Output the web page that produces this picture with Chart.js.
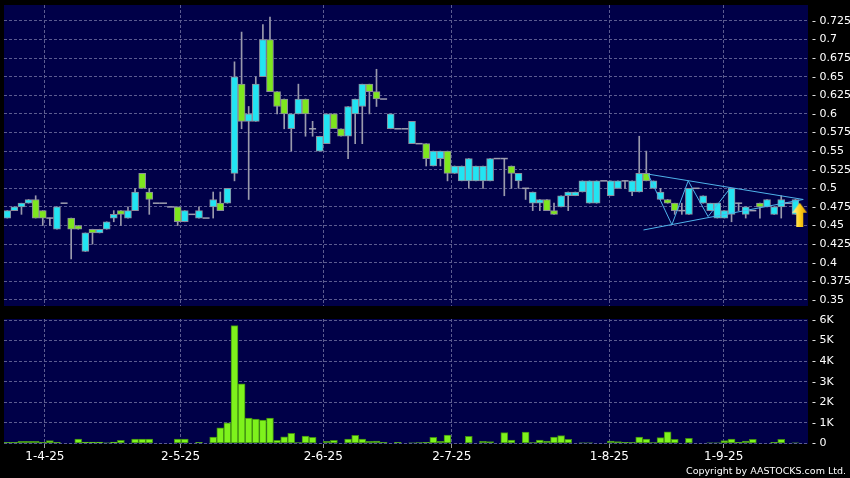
<!DOCTYPE html>
<html>
<head>
<meta charset="utf-8">
<script src="https://cdn.jsdelivr.net/npm/chart.js@4.4.0/dist/chart.umd.min.js"></script>
<style>
body{margin:0;background:#000;width:850px;height:478px;overflow:hidden;position:relative;font-family:"DejaVu Sans",sans-serif}
#priceChart{position:absolute;left:0;top:0}
#volChart{position:absolute;left:0;top:312px}
#copy{position:absolute;right:4px;top:465px;color:#fff;font-size:9.5px;line-height:12px}
</style>
</head>
<body>
<canvas id="priceChart" width="850" height="312"></canvas>
<canvas id="volChart" width="850" height="166"></canvas>
<div id="copy">Copyright by AASTOCKS.com Ltd.</div>
<script>
// daily candles, oldest first
var open = [0.46,0.47,0.475,0.48,0.485,0.47,0.46,0.445,0.48,0.46,
  0.45,0.415,0.445,0.44,0.445,0.46,0.47,0.46,0.47,0.52,
  0.495,0.48,0.48,0.475,0.475,0.455,0.465,0.46,0.46,0.475,
  0.48,0.48,0.52,0.64,0.59,0.59,0.65,0.70,0.63,0.62,
  0.58,0.60,0.62,0.58,0.55,0.56,0.60,0.58,0.57,0.60,
  0.61,0.64,0.63,0.62,0.58,0.58,0.58,0.56,0.56,0.56,
  0.53,0.54,0.55,0.52,0.51,0.51,0.51,0.51,0.51,0.54,
  0.54,0.53,0.51,0.50,0.48,0.48,0.485,0.47,0.475,0.49,
  0.49,0.495,0.48,0.48,0.51,0.49,0.50,0.51,0.495,0.495,
  0.52,0.50,0.485,0.485,0.48,0.47,0.465,0.50,0.48,0.47,
  0.46,0.46,0.465,0.48,0.465,0.47,0.48,0.475,0.465,0.475,
  0.48,0.465];
var high = [0.47,0.475,0.48,0.485,0.49,0.47,0.46,0.475,0.48,0.46,
  0.45,0.44,0.445,0.445,0.455,0.47,0.47,0.475,0.50,0.52,
  0.50,0.48,0.48,0.475,0.475,0.47,0.465,0.475,0.46,0.495,
  0.495,0.50,0.67,0.71,0.61,0.65,0.72,0.73,0.63,0.62,
  0.60,0.64,0.62,0.59,0.57,0.60,0.60,0.58,0.61,0.62,
  0.64,0.64,0.66,0.62,0.60,0.58,0.58,0.59,0.56,0.56,
  0.55,0.55,0.55,0.53,0.53,0.54,0.53,0.53,0.54,0.54,
  0.54,0.53,0.52,0.50,0.495,0.485,0.485,0.48,0.49,0.495,
  0.495,0.51,0.51,0.51,0.51,0.51,0.51,0.51,0.51,0.57,
  0.55,0.51,0.50,0.485,0.48,0.48,0.50,0.50,0.49,0.48,
  0.48,0.47,0.50,0.48,0.475,0.47,0.48,0.485,0.475,0.49,
  0.48,0.485];
var low = [0.46,0.47,0.465,0.48,0.46,0.45,0.45,0.445,0.48,0.405,
  0.445,0.415,0.425,0.44,0.445,0.455,0.45,0.46,0.47,0.50,
  0.465,0.48,0.48,0.475,0.45,0.455,0.465,0.46,0.46,0.46,
  0.47,0.48,0.51,0.58,0.485,0.59,0.65,0.63,0.60,0.58,
  0.55,0.60,0.57,0.57,0.55,0.56,0.58,0.57,0.54,0.56,
  0.56,0.60,0.61,0.62,0.58,0.58,0.58,0.56,0.56,0.53,
  0.53,0.53,0.51,0.52,0.51,0.50,0.51,0.50,0.51,0.54,
  0.49,0.50,0.50,0.485,0.47,0.47,0.47,0.465,0.475,0.47,
  0.49,0.495,0.48,0.48,0.51,0.49,0.50,0.50,0.49,0.495,
  0.51,0.50,0.485,0.48,0.465,0.465,0.465,0.50,0.48,0.47,
  0.46,0.46,0.455,0.47,0.46,0.47,0.46,0.475,0.465,0.46,
  0.48,0.465];
var close = [0.47,0.475,0.48,0.485,0.46,0.46,0.46,0.475,0.48,0.445,
  0.445,0.44,0.44,0.445,0.455,0.465,0.465,0.47,0.495,0.50,
  0.485,0.48,0.48,0.475,0.455,0.47,0.465,0.47,0.46,0.485,
  0.47,0.50,0.65,0.59,0.60,0.64,0.70,0.63,0.61,0.60,
  0.60,0.62,0.60,0.58,0.57,0.60,0.58,0.57,0.61,0.62,
  0.64,0.63,0.62,0.62,0.60,0.58,0.58,0.59,0.56,0.54,
  0.55,0.55,0.52,0.53,0.53,0.54,0.53,0.53,0.54,0.54,
  0.54,0.52,0.52,0.50,0.495,0.485,0.47,0.465,0.49,0.495,
  0.495,0.51,0.51,0.51,0.51,0.51,0.51,0.51,0.51,0.52,
  0.51,0.51,0.495,0.48,0.47,0.47,0.50,0.50,0.49,0.48,
  0.48,0.47,0.50,0.48,0.475,0.47,0.475,0.485,0.475,0.485,
  0.48,0.485];
var volume = [50,50,100,100,100,50,130,50,0,0,
  200,60,60,60,20,60,150,0,200,200,
  200,0,0,0,200,200,0,50,0,300,
  750,1000,5730,2900,1230,1180,1130,1230,150,320,
  480,30,350,290,0,100,150,0,200,390,
  210,100,110,50,0,50,0,20,30,50,
  290,100,400,0,0,340,0,100,80,0,
  520,160,0,550,30,160,110,300,370,190,
  0,20,20,0,0,110,80,50,40,300,
  200,30,280,560,190,0,240,0,0,20,
  20,130,210,50,110,190,0,0,50,190,
  0,20];

// x ticks (candle index) and their date labels
var tickPos = [5.3, 24.4, 44.5, 62.6, 84.8, 100.9];
var tickLabels = ['1-4-25', '2-5-25', '2-6-25', '2-7-25', '1-8-25', '1-9-25'];
var priceTicks = [0.35,0.375,0.4,0.425,0.45,0.475,0.5,0.525,0.55,0.575,0.6,0.625,0.65,0.675,0.7,0.725];
var volTicks = [0,1000,2000,3000,4000,5000,6000];

// triangle pattern drawn on the chart
var upperX = [90.3, 112.1], upperY = [0.519, 0.485];
var lowerX = [89.6, 112.1], lowerY = [0.444, 0.485];
var zigX = [90.3, 93.6, 95.9, 98.7, 101.8], zigY = [0.518, 0.451, 0.510, 0.462, 0.500];
var arrowX = [111.6], arrowY = [0.4645];

var CYAN = '#22e4f2', GREEN = '#7ee61e', EDGE = '#8c8c9c', GRID = '#5c5c90';
var FONT = {family: 'DejaVu Sans', size: 11};

var idx = open.map(function(v, i) { return i; });
function pts(xs, ys) { return xs.map(function(x, i) { return {x: x, y: ys[i]}; }); }

var panelBg = {
  id: 'panelBg',
  beforeDraw: function(chart) {
    var a = chart.chartArea, c = chart.ctx;
    c.save();
    c.fillStyle = '#000048';
    c.fillRect(a.left, a.top, a.right - a.left, a.bottom - a.top);
    c.restore();
  }
};

// yellow arrow marker
var arrowImg = document.createElement('canvas');
arrowImg.width = 15; arrowImg.height = 24;
var ac = arrowImg.getContext('2d');
var grad = ac.createLinearGradient(0, 0, 15, 0);
grad.addColorStop(0, '#fff3a8'); grad.addColorStop(0.5, '#ffd21a'); grad.addColorStop(1, '#d99400');
ac.fillStyle = grad;
ac.beginPath();
ac.moveTo(7.5, 0); ac.lineTo(15, 10); ac.lineTo(11, 10); ac.lineTo(11, 24);
ac.lineTo(4, 24); ac.lineTo(4, 10); ac.lineTo(0, 10); ac.closePath();
ac.fill();

function noPad(s) { s.paddingTop = 0; s.paddingBottom = 0; s.paddingLeft = 0; s.paddingRight = 0; }

function xAxis(showLabels, h) {
  return {
    type: 'linear', min: -0.46, max: 112.77, offset: false,
    afterBuildTicks: function(s) { s.ticks = tickPos.map(function(v) { return {value: v}; }); },
    afterFit: function(s) { s.height = h; noPad(s); },
    grid: {color: GRID, offset: false, drawTicks: showLabels, tickLength: 4, tickColor: '#9a9a9a', tickBorderDash: []},
    border: {display: false, dash: [3, 2]},
    ticks: {display: showLabels, autoSkip: false, maxRotation: 0, padding: 2, color: '#fff',
      font: {family: 'DejaVu Sans', size: 12},
      callback: function(v, i) { return tickLabels[i]; }}
  };
}

function yAxis(min, max, list, fmt) {
  return {
    position: 'right', min: min, max: max,
    afterBuildTicks: function(s) { s.ticks = list.map(function(v) { return {value: v}; }); },
    afterFit: function(s) { s.width = 42; noPad(s); },
    grid: {color: GRID, drawTicks: false},
    border: {display: false, dash: [3, 2]},
    ticks: {color: '#fff', font: FONT, padding: 4, crossAlign: 'near', callback: fmt}
  };
}

new Chart(document.getElementById('priceChart'), {
  type: 'bar',
  data: {
    datasets: [
      {type: 'line', data: pts(arrowX, arrowY), showLine: false, pointStyle: arrowImg, pointRadius: 8},
      {type: 'line', data: pts(upperX, upperY), borderColor: '#4fb3ea', borderWidth: 1, pointRadius: 0},
      {type: 'line', data: pts(lowerX, lowerY), borderColor: '#4fb3ea', borderWidth: 1, pointRadius: 0},
      {type: 'line', data: pts(zigX, zigY), borderColor: '#4fb3ea', borderWidth: 1, pointRadius: 0},
      {type: 'line', showLine: false, pointStyle: 'line', pointRadius: 3.5, borderWidth: 1.5, borderColor: '#a0a0b0',
        data: idx.filter(function(i) { return open[i] === close[i]; }).map(function(i) { return {x: i, y: close[i]}; })},
      {data: idx.map(function(i) { return {x: i, y: open[i] === close[i] ? null : [open[i], close[i]]}; }),
        grouped: false, barThickness: 7, borderWidth: 1, borderSkipped: false, borderColor: EDGE,
        backgroundColor: idx.map(function(i) { return close[i] > open[i] ? CYAN : GREEN; })},
      {data: idx.map(function(i) { return {x: i, y: low[i] === high[i] ? null : [low[i], high[i]]}; }),
        grouped: false, barThickness: 1, backgroundColor: '#9a9aac'}
    ]
  },
  options: {
    responsive: false, animation: false,
    layout: {autoPadding: false, padding: {left: 4, top: 5, right: 0, bottom: 6}},
    plugins: {legend: {display: false}, tooltip: {enabled: false}},
    scales: {
      x: xAxis(false, 0),
      y: yAxis(0.3418, 0.7464, priceTicks, function(v) { return '- ' + (+v.toFixed(3)); })
    }
  },
  plugins: [panelBg]
});

new Chart(document.getElementById('volChart'), {
  type: 'bar',
  data: {
    datasets: [{
      data: idx.map(function(i) { return {x: i, y: volume[i]}; }),
      barThickness: 7, borderWidth: 1, borderSkipped: false,
      backgroundColor: '#7ef21c', borderColor: '#3f8c12'
    }]
  },
  options: {
    responsive: false, animation: false,
    layout: {autoPadding: false, padding: {left: 4, top: 7, right: 0, bottom: 0}},
    plugins: {legend: {display: false}, tooltip: {enabled: false}},
    scales: {
      x: xAxis(true, 34),
      y: yAxis(-34, 6049, volTicks, function(v) { return v === 0 ? '- 0' : '- ' + v / 1000 + 'K'; })
    }
  },
  plugins: [panelBg]
});
</script>
</body>
</html>
